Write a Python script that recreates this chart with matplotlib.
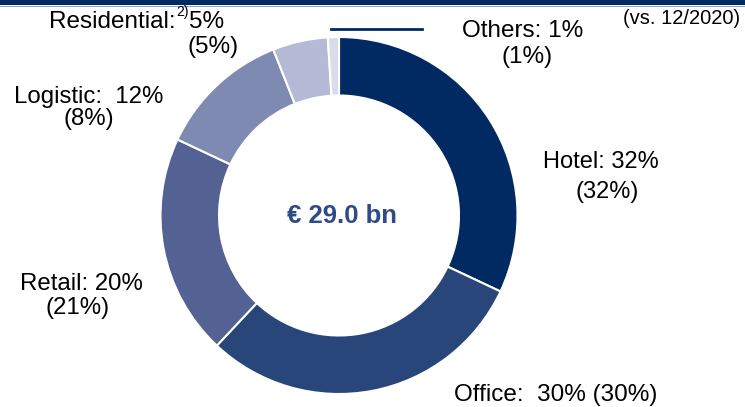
import matplotlib.pyplot as plt

# segment data (share of portfolio, current vs. 12/2020)
segments = ["Hotel", "Office", "Retail", "Logistic", "Residential", "Others"]
shares = [32, 30, 20, 12, 5, 1]
shares_prev = [32, 30, 21, 8, 5, 1]
colors = ["#022a62", "#284679", "#536193", "#7f8ab3", "#b4b9d5", "#d9dce9"]
total_label = "€ 29.0 bn"

W, H = 745, 407
plt.rcParams['font.family'] = ['Liberation Sans', 'DejaVu Sans']

fig = plt.figure(figsize=(W / 100, H / 100), dpi=100)
ax = fig.add_axes([0, 0, 1, 1])


def Y(y):
    # picture coords (top-down) -> axes coords
    return H - y


cx, cy, r_out, r_in = 339, 215.5, 178.5, 120
ax.pie(shares, colors=colors, startangle=90, counterclock=False,
       center=(cx, Y(cy)), radius=r_out,
       wedgeprops=dict(width=r_out - r_in, edgecolor='white', linewidth=1.5))
ax.set_xlim(0, W)
ax.set_ylim(0, H)
ax.axis('off')

# top banner
ax.add_patch(plt.Rectangle((0, Y(5)), W, 5, color="#002a62", lw=0))
ax.plot([0, W], [Y(5.5), Y(5.5)], color="#8fa6c8", lw=0.8)

ax.text(cx + 3, Y(216), total_label, ha='center', va='center',
        fontsize=18.5, fontweight='bold', color="#2f4b86")


def label(x, y, s, size=17.3, **kw):
    ax.text(x, Y(y), s, ha=kw.pop('ha', 'center'), va='center',
            fontsize=size, color='black', **kw)


label(601, 162, f"{segments[0]}: {shares[0]}%", 17)
label(607, 192, f"({shares_prev[0]}%)", 17)

label(556, 395, f"{segments[1]}:  {shares[1]}% ({shares_prev[1]}%)", 17.5)

label(81, 284, f"{segments[2]}: {shares[2]}%")
label(78, 308, f"({shares_prev[2]}%)")

label(89, 97, f"{segments[3]}:  {shares[3]}%")
label(89, 119, f"({shares_prev[3]}%)")

label(176, 22, f"{segments[4]}:", 17.5, ha='right')
label(176, 12, "2)", 10, ha='left')
label(189, 22, f"{shares[4]}%", 17.5, ha='left')
label(213, 47, f"({shares_prev[4]}%)", 17.5)

label(523, 31, f"{segments[5]}: {shares[5]}%", 17.5)
label(527, 57, f"({shares_prev[5]}%)", 17.5)
ax.plot([331, 422], [Y(29), Y(29)], color="#002a62", lw=2)

label(682, 18, "(vs. 12/2020)", 14.5)

fig.savefig("out.png", dpi=100)
